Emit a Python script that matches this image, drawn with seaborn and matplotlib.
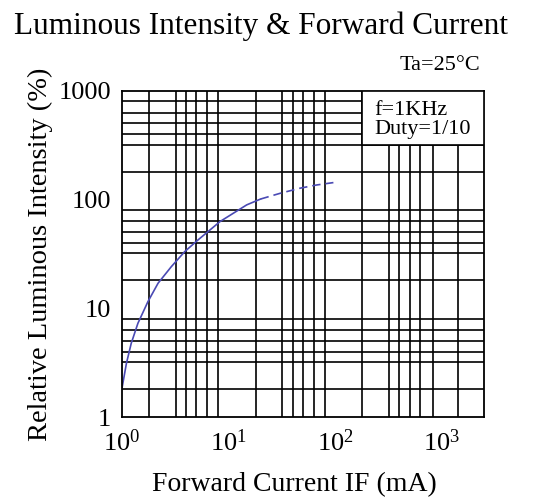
"""Curva de intensidad luminosa relativa frente a corriente directa (escala log-log)."""

import matplotlib
matplotlib.use('Agg')
import matplotlib.pyplot as plt
from matplotlib.patches import Rectangle
from matplotlib.ticker import FixedLocator, LogFormatterMathtext, NullFormatter, FixedFormatter
import seaborn as sns

# Datos
current_solid = [1.0, 1.10, 1.22, 1.41, 1.75, 2.18, 2.90, 3.88, 5.17, 6.7, 8.3, 11.1, 14.8, 20]
intensity_solid = [1.85, 3.12, 4.76, 7.28, 11.5, 17.0, 24.1, 33.2, 42.5, 52.5, 62.6, 74.8, 89.2, 101]
current_dashed = [20, 30.5, 46.9, 67.3, 96.4]
intensity_dashed = [101, 114, 127, 136, 143]

x_ticks = [1, 10, 100, 1000]
y_ticks = [1, 10, 100, 1000]
y_tick_labels = ['1', '10', '100', '1000']
x_grid = [1.8, 3.2, 4, 5, 6.3, 8, 10, 18, 32, 40, 50, 63, 80, 100,
          180, 320, 400, 500, 630, 830, 1430]
y_grid = [1.8, 3.2, 4, 5, 6.3, 8, 10, 18, 32, 40, 50, 63, 80, 100,
          180, 320, 400, 500, 630, 800]

sns.set_theme(style='white')
plt.rcParams['font.family'] = ['Liberation Serif', 'DejaVu Serif']
plt.rcParams['mathtext.fontset'] = 'custom'
plt.rcParams['mathtext.rm'] = 'Liberation Serif'
plt.rcParams['text.color'] = 'black'
plt.rcParams['axes.labelcolor'] = 'black'

fig = plt.figure(figsize=(5.59, 4.99), dpi=100)
ax = fig.add_axes([0.2183, 0.1643, 0.6476, 0.6539])
ax.set(xscale='log', yscale='log')
ax.set_xlim(1, 2500)
ax.set_ylim(1, 1000)

line_color = '#4a4ab4'
sns.lineplot(x=current_solid, y=intensity_solid, sort=False, ax=ax,
             color=line_color, lw=1.2, zorder=2)
sns.lineplot(x=current_dashed, y=intensity_dashed, sort=False, ax=ax,
             color=line_color, lw=1.2, ls=(0, (5, 3)), zorder=2)

# Ticks y rejilla
ax.xaxis.set_major_locator(FixedLocator(x_ticks))
ax.xaxis.set_major_formatter(LogFormatterMathtext())
ax.yaxis.set_major_locator(FixedLocator(y_ticks))
ax.yaxis.set_major_formatter(FixedFormatter(y_tick_labels))
ax.xaxis.set_minor_locator(FixedLocator(x_grid))
ax.yaxis.set_minor_locator(FixedLocator(y_grid))
ax.xaxis.set_minor_formatter(NullFormatter())
ax.yaxis.set_minor_formatter(NullFormatter())
ax.tick_params(which='both', length=0, labelsize=19, colors='black')
ax.tick_params(axis='x', pad=9)
ax.tick_params(axis='y', pad=8)
ax.grid(False, which='major')
ax.grid(True, which='minor', color='black', lw=1.2)
ax.set_axisbelow(True)
for spine in ax.spines.values():
    spine.set_color('black')
    spine.set_linewidth(1.3)

# Recuadro de condiciones
ax.add_patch(Rectangle((180, 320), 2500 - 180, 1000 - 320, facecolor='white',
                       edgecolor='black', lw=1.2, zorder=3))
ax.text(0.698, 0.94, 'f=1KHz', transform=ax.transAxes, fontsize=16,
        va='center', ha='left', zorder=4, color='black')
ax.text(0.698, 0.88, 'Duty=1/10', transform=ax.transAxes, fontsize=16,
        va='center', ha='left', zorder=4, color='black')

ax.set_xlabel('Forward Current IF (mA)', fontsize=20, color='black')
ax.set_ylabel('Relative Luminous Intensity (%)', fontsize=20.5, color='black')
ax.xaxis.set_label_coords(0.475, -0.168)
ax.yaxis.set_label_coords(-0.19, 0.5)

fig.text(0.467, 1 - 26 / 499, 'Luminous Intensity & Forward Current',
         fontsize=22.5, ha='center', va='center', color='black')
fig.text(480 / 559, 1 - 66 / 499, 'Ta=25°C', fontsize=16, ha='right',
         va='center', color='black')

fig.savefig('out.png', dpi=100)
plt.close(fig)
